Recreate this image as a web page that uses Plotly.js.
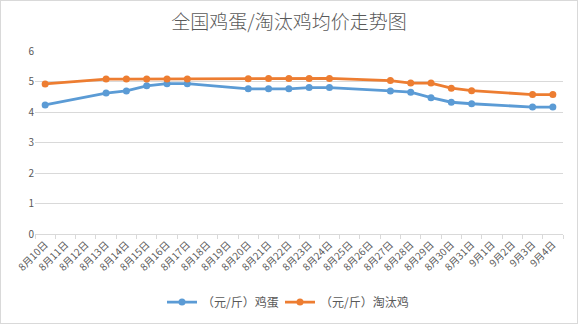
<!DOCTYPE html>
<html>
<head>
<meta charset="utf-8">
<script src="https://cdn.plot.ly/plotly-3.0.1.min.js"></script>
<style>
html,body{margin:0;padding:0;background:#fff;}
#chart{width:576px;height:322px;border:1px solid #d9d9d9;}
</style>
</head>
<body>
<div id="chart"></div>
<script>
const categories = ["8月10日","8月11日","8月12日","8月13日","8月14日","8月15日","8月16日","8月17日","8月18日","8月19日","8月20日","8月21日","8月22日","8月23日","8月24日","8月25日","8月26日","8月27日","8月28日","8月29日","8月30日","8月31日","9月1日","9月2日","9月3日","9月4日"];
const eggPrice = [4.23,null,null,4.62,4.69,4.86,4.93,4.93,null,null,4.76,4.76,4.76,4.80,4.80,null,null,4.69,4.65,4.47,4.32,4.27,null,null,4.16,4.16];
const henPrice = [4.92,null,null,5.08,5.08,5.08,5.08,5.08,null,null,5.09,5.10,5.10,5.10,5.10,null,null,5.03,4.95,4.95,4.78,4.70,null,null,4.57,4.57];
const seriesNames = ["（元/斤）鸡蛋","（元/斤）淘汰鸡"];
const titleText = "全国鸡蛋/淘汰鸡均价走势图";

const font = "'Noto Sans CJK SC', 'Microsoft YaHei', sans-serif";
const traces = [
  {x: categories, y: eggPrice, name: seriesNames[0], type: "scatter", mode: "lines+markers", connectgaps: true,
   line: {color: "#5B9BD5", width: 2.8}, marker: {color: "#5B9BD5", size: 7}, legend: "legend"},
  {x: categories, y: henPrice, name: seriesNames[1], type: "scatter", mode: "lines+markers", connectgaps: true,
   line: {color: "#ED7D31", width: 2.8}, marker: {color: "#ED7D31", size: 7}, legend: "legend2"}
];
const legendBase = {orientation: "h", y: 0.065, yanchor: "middle", yref: "container", xref: "container", xanchor: "left",
  font: {family: font, size: 12, color: "#595959"}, itemwidth: 30, bgcolor: "rgba(0,0,0,0)"};
const layout = {
  width: 576, height: 322,
  margin: {l: 34, r: 14, t: 50, b: 89},
  paper_bgcolor: "#fff", plot_bgcolor: "#fff",
  font: {family: font, color: "#595959", size: 10},
  title: {text: titleText, font: {family: font, size: 19, color: "#595959", weight: 300}, x: 0.5, xanchor: "center", y: 0.935, yanchor: "middle", yref: "container"},
  showlegend: true,
  legend: Object.assign({}, legendBase, {x: 161/576}),
  legend2: Object.assign({}, legendBase, {x: 279/576}),
  xaxis: {type: "category", tickangle: -45, showgrid: false, showline: true, linecolor: "#d9d9d9", linewidth: 1,
    ticks: "outside", tickson: "boundaries", ticklen: 4, tickcolor: "#d9d9d9", tickfont: {size: 10, color: "#595959"},
    range: [-0.5, categories.length - 0.5], fixedrange: true},
  yaxis: {range: [0, 6], dtick: 1, showgrid: true, gridcolor: "#d9d9d9", gridwidth: 1, zeroline: false, showline: false,
    tickfont: {size: 10, color: "#595959"}, ticks: "", fixedrange: true}
};
Plotly.newPlot("chart", traces, layout, {displayModeBar: false, staticPlot: true});
</script>
</body>
</html>
